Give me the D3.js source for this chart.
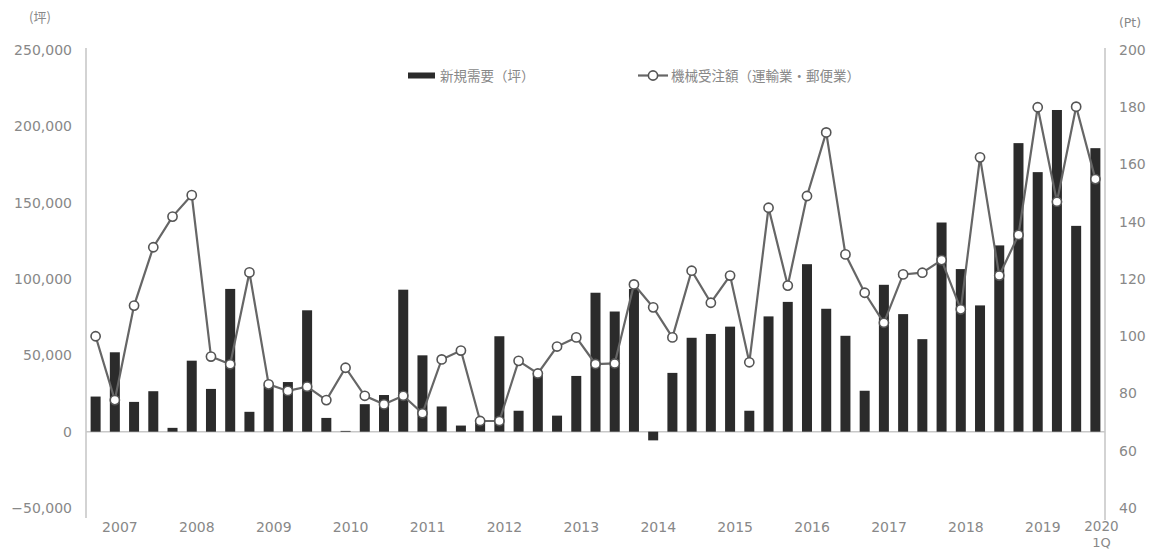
<!DOCTYPE html>
<html><head><meta charset="utf-8">
<script src="https://cdn.jsdelivr.net/npm/d3@7"></script>
<style>
html,body{margin:0;padding:0;background:#fff;}
text{font-family:"Noto Sans CJK JP","Noto Sans",sans-serif;fill:#888;}
.num{font-family:"DejaVu Sans",sans-serif;}
</style></head>
<body>
<svg id="chart" width="1151" height="551"></svg>
<script>
const years = ["2007","2008","2009","2010","2011","2012","2013","2014","2015","2016","2017","2018","2019","2020"];
const quarters = ["Q1","Q2","Q3","Q4"];
// 新規需要（坪） quarterly, 2007Q1 .. 2020Q1
const demand = [
  23000, 52000, 19500, 26500,
  2500, 46500, 28000, 93500,
  13000, 30500, 32500, 79500,
  9000, 500, 18000, 24000,
  93000, 50000, 16500, 4000,
  7000, 62500, 13700, 38500,
  10500, 36500, 91000, 78700,
  93500, -5700, 38500, 61500,
  64000, 68800, 13700, 75500,
  85000, 109700, 80500, 62800,
  26800, 96200, 77000, 60600,
  137000, 106500, 82700, 122000,
  189000, 170000, 210700, 134800,
  185700
];
// 機械受注額（運輸業・郵便業） Pt
const orders = [
  100, 77.7, 110.7, 131.1,
  141.8, 149.3, 92.9, 90.2,
  122.3, 83.2, 80.9, 82.4,
  77.7, 89.0, 79.2, 76.2,
  79.2, 73.1, 91.9, 95.0,
  70.4, 70.4, 91.4, 87.0,
  96.4, 99.6, 90.3, 90.5,
  118.1, 110.1, 99.6, 122.9,
  111.7, 121.2, 90.9, 144.9,
  117.7, 149.0, 171.2, 128.6,
  115.2, 104.7, 121.6, 122.2,
  126.6, 109.4, 162.5, 121.2,
  135.4, 180.0, 147.0, 180.2,
  154.9
];
const leftTicks = [-50000, 0, 50000, 100000, 150000, 200000, 250000];
const rightTicks = [40, 60, 80, 100, 120, 140, 160, 180, 200];
const legendLabels = ["新規需要（坪）", "機械受注額（運輸業・郵便業）"];

const cats = [];
years.forEach((y, yi) => quarters.forEach(q => { if (cats.length < demand.length) cats.push(y + q); }));

const svg = d3.select("#chart");
const pLeft = 86, pRight = 1105, pTop = 50, pBottom = 508;

const x = d3.scaleBand().domain(cats).range([pLeft, pRight]).paddingInner(0.48).paddingOuter(0.24);
const y0 = d3.scaleLinear().domain([-50000, 250000]).range([pBottom, pTop]);
const y1 = d3.scaleLinear().domain([40, 200]).range([pBottom, pTop]);

// axis lines
svg.append("line").attr("x1", pLeft).attr("x2", pLeft).attr("y1", pTop - 2).attr("y2", pBottom + 10)
  .attr("stroke", "#c4c4c4").attr("stroke-width", 1.5);
svg.append("line").attr("x1", pRight).attr("x2", pRight).attr("y1", pTop - 2).attr("y2", pBottom + 12)
  .attr("stroke", "#c4c4c4").attr("stroke-width", 1.5);

// left axis
const fmt = d3.format(",");
const la = d3.axisLeft(y0).tickValues(leftTicks).tickSize(0).tickPadding(14).tickFormat(fmt);
const gL = svg.append("g").attr("transform", `translate(${pLeft},0)`).call(la);
gL.select(".domain").remove();
gL.selectAll("text").attr("class", "num").style("font-size", "14px").style("fill", "#888").style("font-family", '"DejaVu Sans",sans-serif');

// right axis
const ra = d3.axisRight(y1).tickValues(rightTicks).tickSize(0).tickPadding(14);
const gR = svg.append("g").attr("transform", `translate(${pRight},0)`).call(ra);
gR.select(".domain").remove();
gR.selectAll("text").attr("class", "num").style("font-size", "14px").style("fill", "#888").style("font-family", '"DejaVu Sans",sans-serif');

// baseline
svg.append("line").attr("x1", pLeft).attr("x2", pRight).attr("y1", y0(0)).attr("y2", y0(0))
  .attr("stroke", "#c8c8c8").attr("stroke-width", 1.5);

// bars
svg.append("g").selectAll("rect").data(demand).join("rect")
  .attr("x", (d, i) => x(cats[i]))
  .attr("width", x.bandwidth())
  .attr("y", d => Math.min(y0(d), y0(0)))
  .attr("height", d => Math.abs(y0(d) - y0(0)))
  .attr("fill", "#2b2b2b");

// line
const cx = (d, i) => x(cats[i]) + x.bandwidth() / 2;
svg.append("path").datum(orders)
  .attr("d", d3.line().x(cx).y(d => y1(d)))
  .attr("fill", "none").attr("stroke", "#666").attr("stroke-width", 2.2);
svg.append("g").selectAll("circle").data(orders).join("circle")
  .attr("cx", cx).attr("cy", d => y1(d)).attr("r", 4.6)
  .attr("fill", "#fff").attr("stroke", "#555").attr("stroke-width", 1.6);

// x labels
const step = x.step();
years.forEach((yr, k) => {
  const firstCat = yr + "Q1";
  if (k < years.length - 1) {
    svg.append("text").attr("class", "num").attr("x", x(firstCat) - x.bandwidth() * 0.24 + step * 1.65)
      .attr("y", 532).attr("text-anchor", "middle").style("font-size", "14px").text(yr);
  } else {
    const cxx = x(firstCat) + x.bandwidth() / 2 + 6;
    svg.append("text").attr("class", "num").attr("x", cxx).attr("y", 531).attr("text-anchor", "middle").style("font-size", "13.5px").text(yr);
    svg.append("text").attr("class", "num").attr("x", cxx).attr("y", 547).attr("text-anchor", "middle").style("font-size", "13px").text("1Q");
  }
});

// unit labels
svg.append("text").attr("x", 40).attr("y", 22).attr("text-anchor", "middle").style("font-size", "13px").text("(坪)");
svg.append("text").attr("class", "num").attr("x", 1130).attr("y", 27).attr("text-anchor", "middle").style("font-size", "12.5px").text("(Pt)");

// legend
svg.append("rect").attr("x", 408).attr("y", 72.5).attr("width", 27).attr("height", 6).attr("fill", "#2b2b2b");
svg.append("text").attr("x", 440).attr("y", 80.5).style("font-size", "13.5px").text(legendLabels[0]);
svg.append("line").attr("x1", 638).attr("x2", 668).attr("y1", 75.5).attr("y2", 75.5).attr("stroke", "#666").attr("stroke-width", 2.2);
svg.append("circle").attr("cx", 653).attr("cy", 75.5).attr("r", 4.6).attr("fill", "#fff").attr("stroke", "#555").attr("stroke-width", 1.6);
svg.append("text").attr("x", 671).attr("y", 80.5).style("font-size", "13.5px").text(legendLabels[1]);
</script>
</body></html>
